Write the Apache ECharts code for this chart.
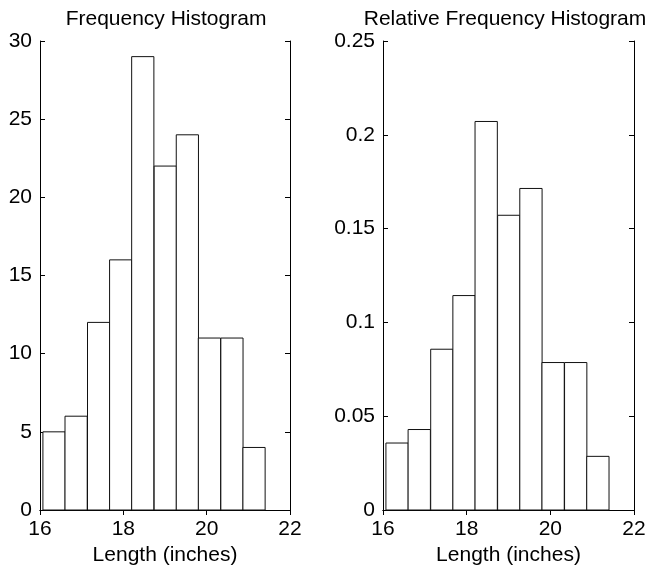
<!DOCTYPE html>
<html><head><meta charset="utf-8">
<script src="https://cdn.jsdelivr.net/npm/echarts@6/dist/echarts.min.js"></script>
<style>html,body{margin:0;padding:0;background:#fff}#c{width:653px;height:573px}</style>
</head><body><div id="c"></div>
<script>
// Bin left edges and width (inches)
const binStart = [16.07, 16.60, 17.14, 17.67, 18.20, 18.74, 19.27, 19.80, 20.34, 20.87];
const binWidth = 0.533;
const counts = [5, 6, 12, 16, 29, 22, 24, 11, 11, 4];
const relFreq = [0.0357, 0.0429, 0.0857, 0.1143, 0.2071, 0.1571, 0.1714, 0.0786, 0.0786, 0.0286];
const xTicks = [16, 18, 20, 22];

const FONT = "'Liberation Sans', Arial, Helvetica, sans-serif";
const FS = 21;
const chart = echarts.init(document.getElementById('c'), null, {renderer: 'canvas'});

function barData(vals) { return vals.map((v, i) => [binStart[i], binStart[i] + binWidth, v]); }
function renderBar(params, api) {
  const p0 = api.coord([api.value(0), 0]);
  const p1 = api.coord([api.value(1), api.value(2)]);
  return {
    type: 'rect',
    shape: {x: p0[0], y: p1[1], width: p1[0] - p0[0], height: p0[1] - p1[1]},
    style: {fill: '#fff', stroke: '#111', lineWidth: 1}
  };
}
const lbl = {color: '#000', fontSize: FS, fontFamily: FONT};
function xAx(gi, pos, show) {
  return {
    type: 'value', gridIndex: gi, position: pos, min: xTicks[0], max: xTicks[xTicks.length - 1], interval: 2,
    axisLine: {show: true, lineStyle: {color: '#000', width: 1}},
    axisTick: {show: true, inside: true, length: 5, lineStyle: {color: '#000'}},
    axisLabel: Object.assign({show: show, margin: 9}, lbl),
    splitLine: {show: false},
    name: show ? 'Length (inches)' : '', nameLocation: 'middle', nameGap: 35,
    nameTextStyle: {color: '#000', fontSize: FS, fontFamily: FONT, verticalAlign: 'top'}
  };
}
function yAx(gi, pos, show, max, interval) {
  return {
    type: 'value', gridIndex: gi, position: pos, min: 0, max: max, interval: interval,
    axisLine: {show: true, lineStyle: {color: '#000', width: 1}},
    axisTick: {show: true, inside: true, length: 5, lineStyle: {color: '#000'}},
    axisLabel: Object.assign({show: show, margin: 8}, lbl),
    splitLine: {show: false}
  };
}

chart.setOption({
  backgroundColor: '#fff',
  animation: false,
  title: [
    {text: 'Frequency Histogram', left: 161, top: 4, textAlign: 'center',
     textStyle: {color: '#000', fontSize: FS, fontWeight: 'normal', fontFamily: FONT}},
    {text: 'Relative Frequency Histogram', left: 500, top: 4, textAlign: 'center',
     textStyle: {color: '#000', fontSize: FS, fontWeight: 'normal', fontFamily: FONT}}
  ],
  grid: [
    {left: 40, top: 41, width: 250, height: 469},
    {left: 383, top: 41, width: 251, height: 469}
  ],
  xAxis: [xAx(0, 'bottom', true), xAx(0, 'top', false), xAx(1, 'bottom', true), xAx(1, 'top', false)],
  yAxis: [yAx(0, 'left', true, 30, 5), yAx(0, 'right', false, 30, 5),
          yAx(1, 'left', true, 0.25, 0.05), yAx(1, 'right', false, 0.25, 0.05)],
  series: [
    {type: 'custom', xAxisIndex: 0, yAxisIndex: 0, renderItem: renderBar, data: barData(counts),
     encode: {x: [0, 1], y: 2}},
    {type: 'custom', xAxisIndex: 2, yAxisIndex: 2, renderItem: renderBar, data: barData(relFreq),
     encode: {x: [0, 1], y: 2}}
  ]
});
</script></body></html>
